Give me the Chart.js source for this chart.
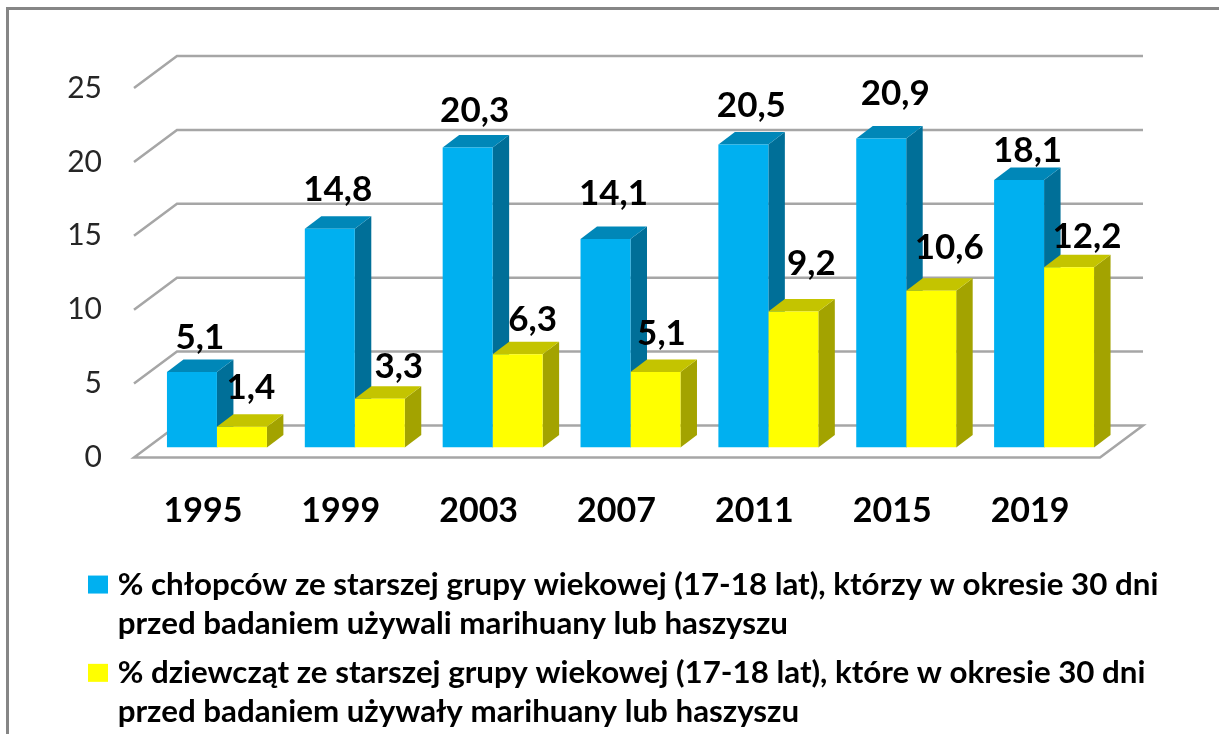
<!DOCTYPE html>
<html lang="pl">
<head>
<meta charset="utf-8">
<style>html,body{margin:0;padding:0;background:#fff;overflow:hidden}canvas{display:block}</style>
<script src="https://cdn.jsdelivr.net/npm/chart.js@4"></script>
</head>
<body>
<canvas id="c" width="1219" height="734"></canvas>
<script>
const categories = ['1995','1999','2003','2007','2011','2015','2019'];
const boys = [5.1,14.8,20.3,14.1,20.5,20.9,18.1];
const girls = [1.4,3.3,6.3,5.1,9.2,10.6,12.2];
const boysLegend = ['% chłopców ze starszej grupy wiekowej (17-18 lat), którzy w okresie 30 dni','przed badaniem używali marihuany lub haszyszu'];
const girlsLegend = ['% dziewcząt ze starszej grupy wiekowej (17-18 lat), które w okresie 30 dni','przed badaniem używały marihuany lub haszyszu'];

const FONT = 'Lato';
const DEPTH_X = 16.5, DEPTH_Y = 12.5;
const SHADES = [{top:'#0087B8',side:'#006F98'},{top:'#C4C400',side:'#A3A300'}];
const LABEL_DX = [[8,8,7,8,8,14,8.5],[9,19,15,6,18,18,18]];
const LABEL_LIFT = [[11,15,13,22,15,21,5],[15,8,11,15,24,19,7]];
const WALL = {frontLeft:-14, frontRight:-13, backLeft:29, right:1143, frontDy:10, backDy:-22};

const poly = (ctx, pts, fill) => {
  ctx.beginPath();
  pts.forEach((p,i)=> i ? ctx.lineTo(p[0],p[1]) : ctx.moveTo(p[0],p[1]));
  ctx.closePath();
  ctx.fillStyle = fill;
  ctx.fill();
};

const scene3d = {
  id:'scene3d',
  afterLayout(chart){
    chart.legend.right = chart.width;
    chart.legend.bottom = chart.height;
    chart.scales.x.bottom = 560;
  },
  beforeDatasetsDraw(chart){
    const {ctx, scales:{y}, chartArea:a} = chart;
    ctx.save();
    ctx.fillStyle = '#868686';
    ctx.fillRect(6,7,3,727);
    ctx.fillRect(6,7,1213,3);
    ctx.strokeStyle = '#A6A6A6';
    ctx.lineWidth = 2.5;
    ctx.lineJoin = 'miter';
    y.ticks.forEach(t=>{
      const py = y.getPixelForValue(t.value);
      ctx.beginPath();
      ctx.moveTo(a.left+WALL.frontLeft, py+WALL.frontDy);
      ctx.lineTo(a.left+WALL.backLeft, py+WALL.backDy);
      ctx.lineTo(WALL.right, py+WALL.backDy);
      if (t.value === 0) {
        ctx.lineTo(a.right+WALL.frontRight, py+WALL.frontDy);
        ctx.closePath();
      }
      ctx.stroke();
    });
    categories.forEach((_,i)=>{
      [0,1].forEach(d=>{
        const el = chart.getDatasetMeta(d).data[i];
        const l = el.x - el.width/2, r = el.x + el.width/2, t = el.y, b = el.base;
        poly(ctx,[[r,t],[r+DEPTH_X,t-DEPTH_Y],[r+DEPTH_X,b-DEPTH_Y],[r,b]],SHADES[d].side);
        poly(ctx,[[l,t],[l+DEPTH_X,t-DEPTH_Y],[r+DEPTH_X,t-DEPTH_Y],[r,t]],SHADES[d].top);
      });
    });
    ctx.restore();
  },
  afterDatasetsDraw(chart){
    const {ctx} = chart;
    ctx.save();
    ctx.fillStyle = '#000';
    ctx.font = 'bold 35px '+FONT;
    ctx.textAlign = 'center';
    ctx.textBaseline = 'alphabetic';
    [0,1].forEach(d=>{
      chart.getDatasetMeta(d).data.forEach((el,i)=>{
        const v = chart.data.datasets[d].data[i];
        ctx.fillText(String(v).replace('.',','), el.x+LABEL_DX[d][i], el.y-DEPTH_Y-LABEL_LIFT[d][i]);
      });
    });
    ctx.restore();
  }
};

new Chart(document.getElementById('c'),{
  type:'bar',
  data:{
    labels:categories,
    datasets:[
      {label:boysLegend.join(' '),data:boys,backgroundColor:'#00B0F0',borderWidth:0,legendLines:boysLegend},
      {label:girlsLegend.join(' '),data:girls,backgroundColor:'#FFFF00',borderWidth:0,legendLines:girlsLegend}
    ]
  },
  options:{
    responsive:false,
    animation:false,
    devicePixelRatio:1,
    layout:{padding:{left:37,right:106,top:78,bottom:35.5}},
    datasets:{bar:{categoryPercentage:0.725,barPercentage:1}},
    scales:{
      x:{
        grid:{display:false,drawTicks:false},
        border:{display:false},
        ticks:{color:'#000',font:{family:FONT,size:34,weight:'bold'},padding:43,maxRotation:0,labelOffset:-14},
        afterFit(s){s.height=64.5;}
      },
      y:{
        min:0,max:25,
        grid:{display:false,drawTicks:false},
        border:{display:false},
        ticks:{stepSize:5,color:'#262626',font:{family:FONT,size:30},padding:46,labelOffset:10},
        afterFit(s){s.width=111;}
      }
    },
    plugins:{
      tooltip:{enabled:false},
      legend:{
        position:'bottom',align:'start',
        labels:{
          boxWidth:8,boxHeight:6,padding:57,color:'#000',
          font:{family:FONT,size:31.3,weight:'bold',lineHeight:1.26},
          generateLabels(chart){
            return chart.data.datasets.map((ds,i)=>({
              text:ds.legendLines,fillStyle:ds.backgroundColor,strokeStyle:ds.backgroundColor,
              lineWidth:12,datasetIndex:i,hidden:false,fontColor:'#000'
            }));
          }
        }
      }
    }
  },
  plugins:[scene3d]
});
</script>
</body>
</html>
